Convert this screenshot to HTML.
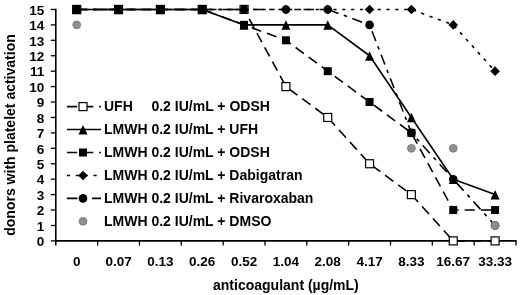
<!DOCTYPE html>
<html><head><meta charset="utf-8"><style>
html,body{margin:0;padding:0;background:#fff;}
svg{display:block;will-change:transform}
.t{font:bold 13.5px "Liberation Sans", sans-serif;fill:#000}
.ti{font:bold 14px "Liberation Sans", sans-serif;fill:#000}
</style></head><body>
<svg width="520" height="295" viewBox="0 0 520 295">
<line x1="55.8" y1="8.65" x2="55.8" y2="245.5" stroke="#000" stroke-width="1.6"/>
<line x1="55.0" y1="240.9" x2="516.8" y2="240.9" stroke="#000" stroke-width="1.6"/>
<line x1="50.8" y1="240.90" x2="55.8" y2="240.90" stroke="#000" stroke-width="1.3"/>
<line x1="50.8" y1="225.47" x2="55.8" y2="225.47" stroke="#000" stroke-width="1.3"/>
<line x1="50.8" y1="210.04" x2="55.8" y2="210.04" stroke="#000" stroke-width="1.3"/>
<line x1="50.8" y1="194.61" x2="55.8" y2="194.61" stroke="#000" stroke-width="1.3"/>
<line x1="50.8" y1="179.18" x2="55.8" y2="179.18" stroke="#000" stroke-width="1.3"/>
<line x1="50.8" y1="163.75" x2="55.8" y2="163.75" stroke="#000" stroke-width="1.3"/>
<line x1="50.8" y1="148.32" x2="55.8" y2="148.32" stroke="#000" stroke-width="1.3"/>
<line x1="50.8" y1="132.89" x2="55.8" y2="132.89" stroke="#000" stroke-width="1.3"/>
<line x1="50.8" y1="117.46" x2="55.8" y2="117.46" stroke="#000" stroke-width="1.3"/>
<line x1="50.8" y1="102.03" x2="55.8" y2="102.03" stroke="#000" stroke-width="1.3"/>
<line x1="50.8" y1="86.60" x2="55.8" y2="86.60" stroke="#000" stroke-width="1.3"/>
<line x1="50.8" y1="71.17" x2="55.8" y2="71.17" stroke="#000" stroke-width="1.3"/>
<line x1="50.8" y1="55.74" x2="55.8" y2="55.74" stroke="#000" stroke-width="1.3"/>
<line x1="50.8" y1="40.31" x2="55.8" y2="40.31" stroke="#000" stroke-width="1.3"/>
<line x1="50.8" y1="24.88" x2="55.8" y2="24.88" stroke="#000" stroke-width="1.3"/>
<line x1="50.8" y1="9.45" x2="55.8" y2="9.45" stroke="#000" stroke-width="1.3"/>
<line x1="97.64" y1="240.9" x2="97.64" y2="245.5" stroke="#000" stroke-width="1.3"/>
<line x1="139.47" y1="240.9" x2="139.47" y2="245.5" stroke="#000" stroke-width="1.3"/>
<line x1="181.31" y1="240.9" x2="181.31" y2="245.5" stroke="#000" stroke-width="1.3"/>
<line x1="223.15" y1="240.9" x2="223.15" y2="245.5" stroke="#000" stroke-width="1.3"/>
<line x1="264.98" y1="240.9" x2="264.98" y2="245.5" stroke="#000" stroke-width="1.3"/>
<line x1="306.82" y1="240.9" x2="306.82" y2="245.5" stroke="#000" stroke-width="1.3"/>
<line x1="348.65" y1="240.9" x2="348.65" y2="245.5" stroke="#000" stroke-width="1.3"/>
<line x1="390.49" y1="240.9" x2="390.49" y2="245.5" stroke="#000" stroke-width="1.3"/>
<line x1="432.33" y1="240.9" x2="432.33" y2="245.5" stroke="#000" stroke-width="1.3"/>
<line x1="474.16" y1="240.9" x2="474.16" y2="245.5" stroke="#000" stroke-width="1.3"/>
<line x1="516.00" y1="240.9" x2="516.00" y2="245.5" stroke="#000" stroke-width="1.3"/>
<text x="44.3" y="246.10" text-anchor="end" class="t">0</text>
<text x="44.3" y="230.67" text-anchor="end" class="t">1</text>
<text x="44.3" y="215.24" text-anchor="end" class="t">2</text>
<text x="44.3" y="199.81" text-anchor="end" class="t">3</text>
<text x="44.3" y="184.38" text-anchor="end" class="t">4</text>
<text x="44.3" y="168.95" text-anchor="end" class="t">5</text>
<text x="44.3" y="153.52" text-anchor="end" class="t">6</text>
<text x="44.3" y="138.09" text-anchor="end" class="t">7</text>
<text x="44.3" y="122.66" text-anchor="end" class="t">8</text>
<text x="44.3" y="107.23" text-anchor="end" class="t">9</text>
<text x="44.3" y="91.80" text-anchor="end" class="t">10</text>
<text x="44.3" y="76.37" text-anchor="end" class="t">11</text>
<text x="44.3" y="60.94" text-anchor="end" class="t">12</text>
<text x="44.3" y="45.51" text-anchor="end" class="t">13</text>
<text x="44.3" y="30.08" text-anchor="end" class="t">14</text>
<text x="44.3" y="14.65" text-anchor="end" class="t">15</text>
<text x="76.72" y="266.4" text-anchor="middle" class="t">0</text>
<text x="118.55" y="266.4" text-anchor="middle" class="t">0.07</text>
<text x="160.39" y="266.4" text-anchor="middle" class="t">0.13</text>
<text x="202.23" y="266.4" text-anchor="middle" class="t">0.26</text>
<text x="244.06" y="266.4" text-anchor="middle" class="t">0.52</text>
<text x="285.90" y="266.4" text-anchor="middle" class="t">1.04</text>
<text x="327.74" y="266.4" text-anchor="middle" class="t">2.08</text>
<text x="369.57" y="266.4" text-anchor="middle" class="t">4.17</text>
<text x="411.41" y="266.4" text-anchor="middle" class="t">8.33</text>
<text x="453.25" y="266.4" text-anchor="middle" class="t">16.67</text>
<text x="495.08" y="266.4" text-anchor="middle" class="t">33.33</text>
<text x="285.9" y="290" text-anchor="middle" class="ti">anticoagulant (µg/mL)</text>
<text transform="translate(14.8,135) rotate(-90)" text-anchor="middle" class="ti">donors with platelet activation</text>
<polyline points="76.72,9.45 118.55,9.45 160.39,9.45 202.23,9.45 244.06,9.45 285.90,86.60 327.74,117.46 369.57,163.75 411.41,194.61 453.25,240.90 495.08,240.90" fill="none" stroke="#000" stroke-width="1.6" stroke-dasharray="10.2 6" stroke-linejoin="round"/>
<polyline points="76.72,9.45 118.55,9.45 160.39,9.45 202.23,9.45 244.06,24.88 285.90,24.88 327.74,24.88 369.57,55.74 411.41,117.46 453.25,179.18 495.08,194.61" fill="none" stroke="#000" stroke-width="1.6" stroke-linejoin="round"/>
<polyline points="76.72,9.45 118.55,9.45 160.39,9.45 202.23,9.45 244.06,24.88 285.90,40.31 327.74,71.17 369.57,102.03 411.41,132.89 453.25,210.04 495.08,210.04" fill="none" stroke="#000" stroke-width="1.6" stroke-dasharray="10.2 6" stroke-linejoin="round"/>
<polyline points="76.72,9.45 118.55,9.45 160.39,9.45 202.23,9.45 244.06,9.45 285.90,9.45 327.74,9.45 369.57,9.45 411.41,9.45 453.25,24.88 495.08,71.17" fill="none" stroke="#000" stroke-width="1.6" stroke-dasharray="3.2 5.65" stroke-linejoin="round"/>
<polyline points="76.72,9.45 118.55,9.45 160.39,9.45 202.23,9.45 244.06,9.45 285.90,9.45 327.74,9.45 369.57,24.88 411.41,132.89 453.25,179.18 495.08,225.47" fill="none" stroke="#000" stroke-width="1.6" stroke-dasharray="10.5 5.6 3.5 5.6" stroke-linejoin="round"/>
<rect x="72.72" y="5.45" width="8" height="8" fill="#fff" stroke="#000" stroke-width="1.2"/>
<rect x="114.55" y="5.45" width="8" height="8" fill="#fff" stroke="#000" stroke-width="1.2"/>
<rect x="156.39" y="5.45" width="8" height="8" fill="#fff" stroke="#000" stroke-width="1.2"/>
<rect x="198.23" y="5.45" width="8" height="8" fill="#fff" stroke="#000" stroke-width="1.2"/>
<rect x="240.06" y="5.45" width="8" height="8" fill="#fff" stroke="#000" stroke-width="1.2"/>
<rect x="281.90" y="82.60" width="8" height="8" fill="#fff" stroke="#000" stroke-width="1.2"/>
<rect x="323.74" y="113.46" width="8" height="8" fill="#fff" stroke="#000" stroke-width="1.2"/>
<rect x="365.57" y="159.75" width="8" height="8" fill="#fff" stroke="#000" stroke-width="1.2"/>
<rect x="407.41" y="190.61" width="8" height="8" fill="#fff" stroke="#000" stroke-width="1.2"/>
<rect x="449.25" y="236.90" width="8" height="8" fill="#fff" stroke="#000" stroke-width="1.2"/>
<rect x="491.08" y="236.90" width="8" height="8" fill="#fff" stroke="#000" stroke-width="1.2"/>
<polygon points="76.72,4.85 81.22,14.35 72.22,14.35" fill="#000"/>
<polygon points="118.55,4.85 123.05,14.35 114.05,14.35" fill="#000"/>
<polygon points="160.39,4.85 164.89,14.35 155.89,14.35" fill="#000"/>
<polygon points="202.23,4.85 206.73,14.35 197.73,14.35" fill="#000"/>
<polygon points="244.06,20.28 248.56,29.78 239.56,29.78" fill="#000"/>
<polygon points="285.90,20.28 290.40,29.78 281.40,29.78" fill="#000"/>
<polygon points="327.74,20.28 332.24,29.78 323.24,29.78" fill="#000"/>
<polygon points="369.57,51.14 374.07,60.64 365.07,60.64" fill="#000"/>
<polygon points="411.41,112.86 415.91,122.36 406.91,122.36" fill="#000"/>
<polygon points="453.25,174.58 457.75,184.08 448.75,184.08" fill="#000"/>
<polygon points="495.08,190.01 499.58,199.51 490.58,199.51" fill="#000"/>
<polygon points="76.72,4.65 81.52,9.45 76.72,14.25 71.92,9.45" fill="#000"/>
<polygon points="118.55,4.65 123.35,9.45 118.55,14.25 113.75,9.45" fill="#000"/>
<polygon points="160.39,4.65 165.19,9.45 160.39,14.25 155.59,9.45" fill="#000"/>
<polygon points="202.23,4.65 207.03,9.45 202.23,14.25 197.43,9.45" fill="#000"/>
<polygon points="244.06,4.65 248.86,9.45 244.06,14.25 239.26,9.45" fill="#000"/>
<polygon points="285.90,4.65 290.70,9.45 285.90,14.25 281.10,9.45" fill="#000"/>
<polygon points="327.74,4.65 332.54,9.45 327.74,14.25 322.94,9.45" fill="#000"/>
<polygon points="369.57,4.65 374.37,9.45 369.57,14.25 364.77,9.45" fill="#000"/>
<polygon points="411.41,4.65 416.21,9.45 411.41,14.25 406.61,9.45" fill="#000"/>
<polygon points="453.25,20.08 458.05,24.88 453.25,29.68 448.45,24.88" fill="#000"/>
<polygon points="495.08,66.37 499.88,71.17 495.08,75.97 490.28,71.17" fill="#000"/>
<circle cx="76.72" cy="9.45" r="4.3" fill="#000"/>
<circle cx="118.55" cy="9.45" r="4.3" fill="#000"/>
<circle cx="160.39" cy="9.45" r="4.3" fill="#000"/>
<circle cx="202.23" cy="9.45" r="4.3" fill="#000"/>
<circle cx="244.06" cy="9.45" r="4.3" fill="#000"/>
<circle cx="285.90" cy="9.45" r="4.3" fill="#000"/>
<circle cx="327.74" cy="9.45" r="4.3" fill="#000"/>
<circle cx="369.57" cy="24.88" r="4.3" fill="#000"/>
<circle cx="411.41" cy="132.89" r="4.3" fill="#000"/>
<circle cx="453.25" cy="179.18" r="4.3" fill="#000"/>
<circle cx="495.08" cy="225.47" r="4.3" fill="#000"/>
<rect x="72.72" y="5.45" width="8" height="8" fill="#000"/>
<rect x="114.55" y="5.45" width="8" height="8" fill="#000"/>
<rect x="156.39" y="5.45" width="8" height="8" fill="#000"/>
<rect x="198.23" y="5.45" width="8" height="8" fill="#000"/>
<rect x="240.06" y="20.88" width="8" height="8" fill="#000"/>
<rect x="281.90" y="36.31" width="8" height="8" fill="#000"/>
<rect x="323.74" y="67.17" width="8" height="8" fill="#000"/>
<rect x="365.57" y="98.03" width="8" height="8" fill="#000"/>
<rect x="407.41" y="128.89" width="8" height="8" fill="#000"/>
<rect x="449.25" y="206.04" width="8" height="8" fill="#000"/>
<rect x="491.08" y="206.04" width="8" height="8" fill="#000"/>
<circle cx="76.72" cy="24.88" r="3.9" fill="#8f8f8f" stroke="#7a7a7a" stroke-width="0.9"/>
<circle cx="411.41" cy="148.32" r="3.9" fill="#8f8f8f" stroke="#7a7a7a" stroke-width="0.9"/>
<circle cx="453.25" cy="148.32" r="3.9" fill="#8f8f8f" stroke="#7a7a7a" stroke-width="0.9"/>
<circle cx="495.08" cy="225.47" r="3.9" fill="#8f8f8f" stroke="#7a7a7a" stroke-width="0.9"/>
<line x1="66.9" y1="106.60" x2="101" y2="106.60" stroke="#000" stroke-width="1.6" stroke-dasharray="10.2 6"/>
<rect x="79.00" y="102.60" width="8" height="8" fill="#fff" stroke="#000" stroke-width="1.2"/>
<text x="104" y="110.80" class="ti" xml:space="preserve">UFH<tspan x="104" fill-opacity="0">LMWH </tspan>0.2 IU/mL + ODSH</text>
<line x1="66.9" y1="129.55" x2="101" y2="129.55" stroke="#000" stroke-width="1.6"/>
<polygon points="83.00,124.95 87.50,134.45 78.50,134.45" fill="#000"/>
<text x="104" y="133.75" class="ti" xml:space="preserve">LMWH 0.2 IU/mL + UFH</text>
<line x1="66.9" y1="152.50" x2="101" y2="152.50" stroke="#000" stroke-width="1.6" stroke-dasharray="10.2 6"/>
<rect x="79.00" y="148.50" width="8" height="8" fill="#000"/>
<text x="104" y="156.70" class="ti" xml:space="preserve">LMWH 0.2 IU/mL + ODSH</text>
<line x1="66.9" y1="175.45" x2="101" y2="175.45" stroke="#000" stroke-width="1.6" stroke-dasharray="3.2 5.65"/>
<polygon points="83.00,170.65 87.80,175.45 83.00,180.25 78.20,175.45" fill="#000"/>
<text x="104" y="179.65" class="ti" xml:space="preserve">LMWH 0.2 IU/mL + Dabigatran</text>
<line x1="66.9" y1="198.40" x2="101" y2="198.40" stroke="#000" stroke-width="1.6" stroke-dasharray="10.5 5.6 3.5 5.6"/>
<circle cx="83.00" cy="198.40" r="4.3" fill="#000"/>
<text x="104" y="202.60" class="ti" xml:space="preserve">LMWH 0.2 IU/mL + Rivaroxaban</text>
<circle cx="83.00" cy="221.35" r="3.9" fill="#8f8f8f" stroke="#7a7a7a" stroke-width="0.9"/>
<text x="104" y="225.55" class="ti" xml:space="preserve">LMWH 0.2 IU/mL + DMSO</text>
</svg>
</body></html>
